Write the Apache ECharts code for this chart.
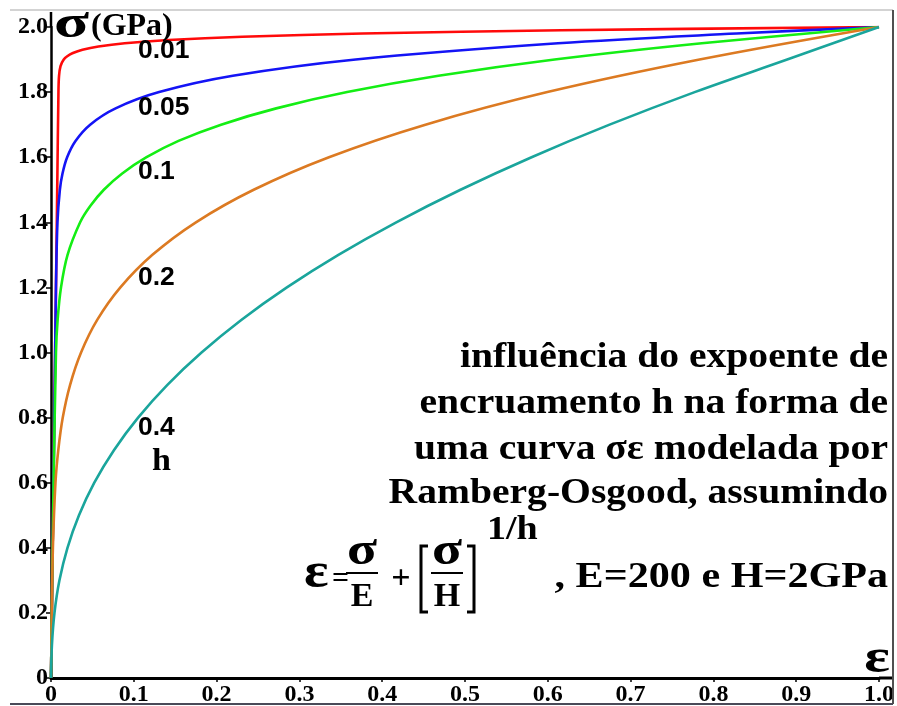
<!DOCTYPE html>
<html>
<head>
<meta charset="utf-8">
<script src="https://cdn.jsdelivr.net/npm/echarts@6/dist/echarts.min.js"></script>
<style>
  html, body { margin: 0; padding: 0; background: #ffffff; }
  #chart { width: 897px; height: 706px; }
</style>
</head>
<body>
<div id="chart"></div>
<script>
// Ramberg-Osgood stress-strain curves, one per hardening exponent h: [strain, stress (GPa)]
const hLabels = ['0.01', '0.05', '0.1', '0.2', '0.4'];

const curveH001 = [[0, 0], [0.0025, 0.5], [0.005, 1.0], [0.0075, 1.5], [0.009, 1.8], [0.0097, 1.85],
  [0.0115, 1.88], [0.0154, 1.9], [0.0196, 1.91], [0.0265, 1.92], [0.038, 1.93], [0.0573, 1.94],
  [0.089, 1.95], [0.142, 1.96], [0.231, 1.97], [0.376, 1.98], [0.616, 1.99], [1.0, 2.0]];

const curveH005 = [[0, 0], [0.0025, 0.5], [0.005, 1.0], [0.006, 1.2], [0.0078, 1.4], [0.0107, 1.5],
  [0.0139, 1.55], [0.0195, 1.6], [0.0296, 1.65], [0.0473, 1.7], [0.078, 1.75], [0.1306, 1.8],
  [0.2196, 1.85], [0.368, 1.9], [0.6124, 1.95], [0.828, 1.98], [1.0, 2.0]];

const curveH01 = [[0, 0], [0.0025, 0.5], [0.006, 1.0], [0.008, 1.1], [0.0121, 1.2], [0.020, 1.3],
  [0.0352, 1.4], [0.0474, 1.45], [0.0638, 1.5], [0.086, 1.55], [0.1154, 1.6], [0.154, 1.65],
  [0.2054, 1.7], [0.272, 1.75], [0.3577, 1.8], [0.468, 1.85], [0.6082, 1.9], [0.786, 1.95], [1.0, 2.0]];

const curveH02 = [[0, 0], [0.001, 0.2], [0.0023, 0.4], [0.0054, 0.6], [0.0088, 0.7], [0.0142, 0.8],
  [0.023, 0.9], [0.0363, 1.0], [0.0558, 1.1], [0.0838, 1.2], [0.1225, 1.3], [0.175, 1.4],
  [0.2448, 1.5], [0.3357, 1.6], [0.4522, 1.7], [0.5995, 1.8], [0.7833, 1.9], [1.0, 2.0]];

const curveH04 = [[0, 0], [0.0011, 0.1], [0.0042, 0.2], [0.0102, 0.3], [0.0199, 0.4], [0.0338, 0.5],
  [0.0523, 0.6], [0.076, 0.7], [0.1052, 0.8], [0.1403, 0.9], [0.1818, 1.0], [0.2298, 1.1],
  [0.2849, 1.2], [0.3471, 1.3], [0.417, 1.4], [0.4946, 1.5], [0.5804, 1.6], [0.6746, 1.7],
  [0.7774, 1.8], [0.8891, 1.9], [1.0, 2.0]];

const curveColors = ['#ff0a0a', '#1414f5', '#14ee14', '#dc7a22', '#1aa59c'];

const xTickLabels = ['0', '0.1', '0.2', '0.3', '0.4', '0.5', '0.6', '0.7', '0.8', '0.9', '1.0'];
const yTickLabels = ['0', '0.2', '0.4', '0.6', '0.8', '1.0', '1.2', '1.4', '1.6', '1.8', '2.0'];

const noteLines = [
  'influência do expoente de',
  'encruamento h na forma de',
  'uma curva σε modelada por',
  'Ramberg-Osgood, assumindo'
];

const SERIF = '"Liberation Serif", "Times New Roman", serif';
const SANS = '"Liberation Sans", Arial, sans-serif';

const chart = echarts.init(document.getElementById('chart'), null, { renderer: 'canvas' });

const grid = { left: 51, right: 18, top: 27, bottom: 28 };
const W = 897, H = 706;
const axisX = W - grid.right;   // right end of the strain axis
const axisY = H - grid.bottom;  // height of the strain axis line

const curves = [curveH001, curveH005, curveH01, curveH02, curveH04];

const series = curves.map((data, i) => ({
  name: 'h = ' + hLabels[i],
  type: 'line',
  data: data,
  showSymbol: false,
  smooth: 0.35,
  lineStyle: { color: curveColors[i], width: 2.6 },
  z: 2 + i,
  silent: true
}));

// text helper; sx stretches the glyphs horizontally about the anchor point
function txt(text, x, y, font, align, sx) {
  return {
    type: 'text', x: x, y: y, silent: true, z: 20, scaleX: sx || 1,
    style: { text: text, font: font, fill: '#000', align: align || 'left', verticalAlign: 'middle' }
  };
}
function seg(x1, y1, x2, y2, color, w) {
  return { type: 'line', silent: true, z: 15, shape: { x1, y1, x2, y2 }, style: { stroke: color, lineWidth: w } };
}

// curve labels next to each curve
const labelRows = [51, 108, 172, 278, 428];
const graphics = [];
labelRows.forEach((y, i) => graphics.push(txt(hLabels[i], 138, y, 'bold 25px ' + SANS, 'left', 1.06)));
graphics.push(txt('h', 152, 462, 'bold 31px ' + SERIF, 'left', 1.1));

// axis titles
graphics.push(txt('σ', 54, 25, 'bold 46px ' + SERIF, 'left', 1.4));
graphics.push(txt('(GPa)', 91, 27, 'bold 32px ' + SERIF));
graphics.push(txt('ε', 890, 660, 'bold 48px ' + SERIF, 'right', 1.25));

// explanatory note
const noteRows = [358, 404, 450, 494];
noteLines.forEach((line, i) => graphics.push(txt(line, 888, noteRows[i], 'bold 36px ' + SERIF, 'right', 1.1)));

// Ramberg-Osgood relation
graphics.push(txt('ε', 304, 574, 'bold 50px ' + SERIF, 'left', 1.15));
graphics.push(txt('=', 332, 579, 'bold 30px ' + SERIF));
graphics.push(txt('σ', 362, 552, 'bold 46px ' + SERIF, 'center', 1.2));
graphics.push(seg(346, 573, 378, 573, '#000', 2));
graphics.push(txt('E', 362, 597, 'bold 34px ' + SERIF, 'center'));
graphics.push(txt('+', 401, 579, 'bold 34px ' + SERIF, 'center'));
graphics.push({ type: 'polyline', silent: true, z: 15,
  shape: { points: [[428, 546], [421, 546], [421, 612], [428, 612]] },
  style: { stroke: '#000', lineWidth: 3, fill: null } });
graphics.push(txt('σ', 447, 552, 'bold 46px ' + SERIF, 'center', 1.2));
graphics.push(seg(431, 573, 463, 573, '#000', 2));
graphics.push(txt('H', 447, 597, 'bold 34px ' + SERIF, 'center'));
graphics.push({ type: 'polyline', silent: true, z: 15,
  shape: { points: [[467, 546], [474, 546], [474, 612], [467, 612]] },
  style: { stroke: '#000', lineWidth: 3, fill: null } });
graphics.push(txt('1/h', 487, 530, 'bold 34px ' + SERIF, 'left', 1.12));
graphics.push(txt(', E=200 e H=2GPa', 888, 578, 'bold 36px ' + SERIF, 'right', 1.17));

// axis lines carried on to the frame
graphics.push(seg(axisX, axisY, 893, axisY, '#000', 3));
graphics.push(seg(grid.left, 12, grid.left, grid.top, '#000', 2.5));

// frame
graphics.push(seg(10, 10, 893, 10, '#c4c4c4', 1.5));
graphics.push(seg(893, 10, 893, 704, '#505050', 2));
graphics.push(seg(10, 704, 893, 704, '#4a4a58', 2));

const option = {
  backgroundColor: '#ffffff',
  animation: false,
  grid: { left: grid.left, right: grid.right, top: grid.top, bottom: grid.bottom, outerBoundsMode: 'none' },
  xAxis: {
    type: 'value', min: 0, max: 1, interval: 0.1,
    axisLine: { show: true, onZero: false, lineStyle: { color: '#000', width: 3 } },
    axisTick: { show: true, length: 4, lineStyle: { color: '#000', width: 1.5 } },
    splitLine: { show: false },
    axisLabel: {
      margin: 5, color: '#000', fontFamily: SERIF, fontWeight: 'bold', fontSize: 24,
      formatter: (v, i) => xTickLabels[i]
    }
  },
  yAxis: {
    type: 'value', min: 0, max: 2, interval: 0.2,
    axisLine: { show: true, onZero: false, lineStyle: { color: '#000', width: 2.5 } },
    axisTick: { show: true, length: 5, lineStyle: { color: '#000', width: 1.5 } },
    splitLine: { show: false },
    axisLabel: {
      margin: 3, color: '#000', fontFamily: SERIF, fontWeight: 'bold', fontSize: 24,
      formatter: (v, i) => yTickLabels[i]
    }
  },
  series: series,
  graphic: graphics
};

chart.setOption(option);
</script>
</body>
</html>
